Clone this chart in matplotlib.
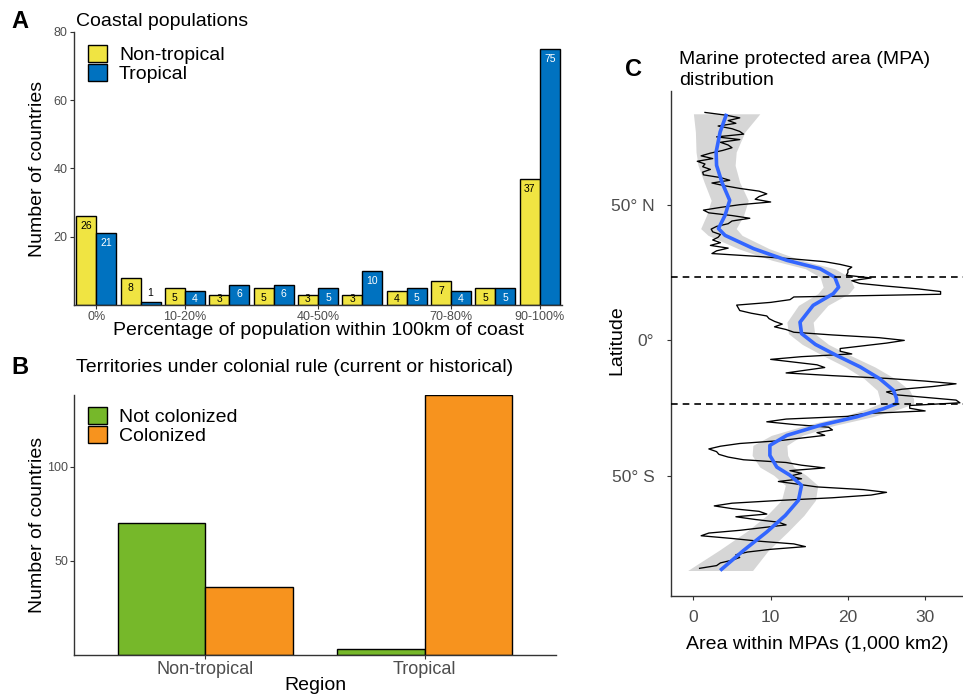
import matplotlib
matplotlib.use("Agg")
import matplotlib.pyplot as plt
import numpy as np

plt.rcParams['font.family'] = ['Liberation Sans', 'DejaVu Sans']

# ---- panel A data: coastal populations
pct_bins = ['0%', '0-10%', '10-20%', '20-30%', '30-40%', '40-50%',
            '50-60%', '60-70%', '70-80%', '80-90%', '90-100%']
shown_bins = ['0%', '10-20%', '40-50%', '70-80%', '90-100%']
non_tropical = [26, 8, 5, 3, 5, 3, 3, 4, 7, 5, 37]
tropical = [21, 1, 4, 6, 6, 5, 10, 5, 4, 5, 75]

# ---- panel B data: colonial rule
regions = ['Non-tropical', 'Tropical']
not_colonized = [70, 3]
colonized = [36, 138]

# ---- panel C data: MPA area by latitude (1,000 km2)
lat = list(range(84, -85, -1))
mpa_area = [
    1.5, 4.2, 6.0, 4.5, 5.5, 3.2, 5.0, 6.0, 6.5, 3.0,        # 84..75
    6.0, 3.5, 4.5, 5.0, 3.8, 2.2, 1.0, 2.5, 0.5, 1.5,        # 74..65
    1.2, 2.2, 1.2, 1.3, 3.5, 4.7, 2.4, 4.0, 6.0, 8.5,        # 64..55
    9.5, 8.5, 8.0, 10.0, 6.0, 3.5, 1.3, 2.0, 5.0, 7.3,       # 54..45
    5.0, 4.5, 3.0, 2.3, 2.5, 3.5, 3.2, 2.5, 3.5, 2.2,        # 44..35
    4.5, 3.0, 2.4, 8.0, 13.0, 17.0, 19.0, 20.5, 20.0, 20.0,  # 34..25
    19.8, 23.0, 20.5, 21.5, 25.0, 29.0, 32.0, 32.0, 13.0, 12.5,  # 24..15
    10.0, 5.6, 5.8, 6.0, 7.5, 9.5, 9.8, 10.5, 11.5, 10.5,    # 14..5
    12.0, 13.0, 18.0, 24.0, 27.3,                            # 4..0
    25.0, 22.0, 19.0, 19.0, 20.5, 14.0, 10.0, 13.0, 16.0, 17.0,  # -1..-10
    14.5, 12.0, 18.0, 25.0, 30.0, 34.0, 31.0, 27.0, 25.0, 26.0,  # -11..-20
    30.0, 34.0, 34.5, 28.0, 28.0, 30.0, 22.0, 20.0, 12.0, 9.5,   # -21..-30
    13.0, 17.5, 18.0, 16.0, 17.0, 14.0, 11.0, 6.0, 3.5, 2.0,     # -31..-40
    3.0, 3.3, 4.5, 6.5, 12.0, 14.0, 17.0, 12.5, 14.0, 12.5,      # -41..-50
    14.0, 11.0, 13.5, 16.0, 22.0, 25.0, 23.0, 18.0, 11.0, 5.0,   # -51..-60
    2.7, 5.0, 8.5, 9.5, 5.5, 8.0, 11.0, 12.0, 9.0, 6.0,          # -61..-70
    2.0, 1.0, 5.0, 8.5, 13.0, 14.5, 10.0, 7.0, 5.5, 6.0,         # -71..-80
    5.0, 3.5, 3.0, 0.8,                                          # -81..-84
]

# smoothed trend and its confidence half-width
smooth_lat = [83.5, 76.8, 69.4, 64.5, 58.2, 51.6, 46.1, 41.2, 38.7, 33.8,
              29.5, 26.4, 23.3, 19.6, 17.2, 12.9, 6.7, 2.5, -1.5, -5.5,
              -9.8, -14.1, -18.4, -21.5, -23.3, -25.2, -28.2, -31.3, -35.0, -38.7,
              -42.4, -46.7, -49.7, -53.4, -58.9, -64.5, -70.6, -77.4, -84.8]
smooth_area = [4.3, 3.46, 2.94, 3.0, 3.7, 4.7, 4.1, 3.24, 4.1, 7.8,
               12.1, 16.4, 18.3, 18.8, 18.1, 15.5, 13.8, 14.0, 15.8, 18.5,
               21.6, 24.1, 25.9, 26.3, 26.3, 24.6, 21.1, 16.4, 12.1, 9.9,
               9.9, 10.8, 12.5, 14.0, 13.6, 11.9, 9.5, 6.5, 3.46]
smooth_se = [4.3, 3.2, 2.6, 2.4, 2.3, 2.4, 2.4, 2.3, 2.2, 2.0,
             1.9, 1.9, 1.9, 2.0, 2.0, 1.9, 1.7, 1.7, 1.7, 1.8,
             1.9, 2.0, 2.1, 2.2, 2.2, 2.1, 2.0, 1.9, 2.0, 2.2,
             2.3, 2.2, 2.1, 2.1, 2.2, 2.4, 2.7, 3.2, 4.2]
tropic_lat = [23.44, -23.44]

yellow = '#F0E442'
blue = '#0072C0'
green = '#76B82A'
orange = '#F7931E'
tick_grey = '#4D4D4D'

W, H = 963, 695
fig = plt.figure(figsize=(W / 100, H / 100), dpi=100)


def px_axes(l, t, r, b):
    return fig.add_axes([l / W, 1 - b / H, (r - l) / W, (b - t) / H])


def classic(ax):
    for s in ['top', 'right']:
        ax.spines[s].set_visible(False)
    for s in ['left', 'bottom']:
        ax.spines[s].set_color('#333333')
        ax.spines[s].set_linewidth(1.0)
    ax.tick_params(colors='#333333', labelcolor=tick_grey, length=3, width=0.8)


# ---------------- panel A
axA = px_axes(74, 32, 562, 305)
classic(axA)
x = np.arange(1, len(pct_bins) + 1)
bw = 0.45
axA.bar(x - bw / 2, non_tropical, bw, color=yellow, edgecolor='black', linewidth=1, label='Non-tropical')
axA.bar(x + bw / 2, tropical, bw, color=blue, edgecolor='black', linewidth=1, label='Tropical')
for xi, v in zip(x - bw / 2, non_tropical):
    if v < 2:
        axA.text(xi, v + 2.5, str(v), ha='center', va='center', fontsize=7.5, color='black')
    else:
        axA.text(xi, max(v - 2.9, 1.7), str(v), ha='center', va='center', fontsize=7.5, color='black')
for xi, v in zip(x + bw / 2, tropical):
    if v < 2:
        axA.text(xi, v + 2.5, str(v), ha='center', va='center', fontsize=7.5, color='black')
    else:
        axA.text(xi, max(v - 2.9, 1.7), str(v), ha='center', va='center', fontsize=7.5, color='white')
axA.set_xlim(0.5, len(pct_bins) + 0.5)
axA.set_ylim(0, 80)
axA.set_yticks([20, 40, 60, 80])
axA.set_xticks([pct_bins.index(b) + 1 for b in shown_bins])
axA.set_xticklabels(shown_bins)
axA.tick_params(axis='x', labelsize=9, pad=1)
axA.tick_params(axis='y', labelsize=9, pad=1.5)
axA.text(-0.0738, 0.5, 'Number of countries', transform=axA.transAxes, rotation=90,
         ha='center', va='center', fontsize=14)
axA.text(0.5, -0.092, 'Percentage of population within 100km of coast', transform=axA.transAxes,
         ha='center', va='center', fontsize=14)
fig.text(76 / W, 1 - 22 / H, 'Coastal populations', ha='left', va='center', fontsize=14)
fig.text(11 / W, 1 - 21 / H, 'A', ha='left', va='center', fontsize=17, fontweight='bold')
axA.legend(loc='upper left', bbox_to_anchor=(88 / W, 1 - 45 / H), bbox_transform=fig.transFigure,
           frameon=False, fontsize=14, handlelength=0.98, handleheight=0.98, handletextpad=0.62,
           labelspacing=0.0, borderpad=0, borderaxespad=0)

# ---------------- panel B
axB = px_axes(74, 395, 556, 655)
classic(axB)
xr = np.arange(1, len(regions) + 1)
bw = 0.4
axB.bar(xr - bw / 2, not_colonized, bw, color=green, edgecolor='black', linewidth=1, label='Not colonized')
axB.bar(xr + bw / 2, colonized, bw, color=orange, edgecolor='black', linewidth=1, label='Colonized')
axB.set_xlim(0.4, 2.6)
axB.set_ylim(0, 138)
axB.set_yticks([50, 100])
axB.set_xticks(xr)
axB.set_xticklabels(regions)
axB.tick_params(axis='x', labelsize=13, pad=1.5)
axB.tick_params(axis='y', labelsize=9, pad=1)
axB.text(-0.0747, 0.5, 'Number of countries', transform=axB.transAxes, rotation=90,
         ha='center', va='center', fontsize=14)
axB.text(0.5, -0.117, 'Region', transform=axB.transAxes, ha='center', va='center', fontsize=14)
fig.text(76 / W, 1 - 367 / H, 'Territories under colonial rule (current or historical)',
         ha='left', va='center', fontsize=14)
fig.text(11 / W, 1 - 367 / H, 'B', ha='left', va='center', fontsize=17, fontweight='bold')
axB.legend(loc='upper left', bbox_to_anchor=(88 / W, 1 - 406.5 / H), bbox_transform=fig.transFigure,
           frameon=False, fontsize=14, handlelength=0.98, handleheight=0.98, handletextpad=0.62,
           labelspacing=0.0, borderpad=0, borderaxespad=0)

# ---------------- panel C
axC = px_axes(671, 91, 963, 596)
classic(axC)
sm_lat = np.array(smooth_lat)
sm_a = np.array(smooth_area)
sm_se = np.array(smooth_se)
axC.fill_betweenx(sm_lat, sm_a - sm_se, sm_a + sm_se, color='#D6D6D6', linewidth=0, zorder=1)
axC.plot(mpa_area, lat, color='black', linewidth=0.95, zorder=2)
axC.plot(sm_a, sm_lat, color='#3366FF', linewidth=2.6, zorder=3, solid_capstyle='butt')
for t in tropic_lat:
    axC.axhline(t, color='black', linewidth=1.2, linestyle=(0, (4, 3)), zorder=4)
axC.set_xlim(-2.9, 34.9)
axC.set_ylim(-94.2, 91.9)
axC.set_xticks([0, 10, 20, 30])
axC.set_yticks([50, 0, -50])
axC.set_yticklabels(['50° N', '0°', '50° S'])
axC.tick_params(axis='both', labelsize=12.5)
axC.tick_params(axis='y', pad=9)
axC.tick_params(axis='x', pad=7)
axC.text(-0.185, 0.507, 'Latitude', transform=axC.transAxes, rotation=90,
         ha='center', va='center', fontsize=14)
axC.text(0.5, -0.097, 'Area within MPAs (1,000 km2)', transform=axC.transAxes,
         ha='center', va='center', fontsize=14)
fig.text(679 / W, 1 - 70 / H, 'Marine protected area (MPA)\ndistribution', ha='left', va='center',
         fontsize=14, linespacing=1.3)
fig.text(625 / W, 1 - 70 / H, 'C', ha='left', va='center', fontsize=17, fontweight='bold')

fig.savefig('out.png', dpi=100)
